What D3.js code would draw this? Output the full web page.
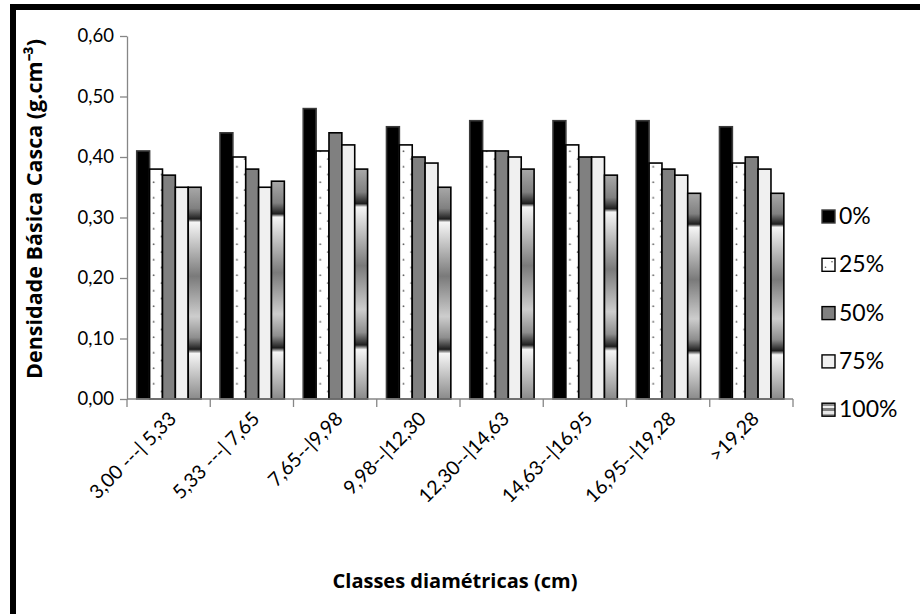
<!DOCTYPE html>
<html>
<head>
<meta charset="utf-8">
<script src="https://cdn.jsdelivr.net/npm/d3@7"></script>
<style>
  html, body { margin: 0; padding: 0; background: #fff; }
  svg { display: block; font-family: Lato, "Open Sans", sans-serif; }
  text { fill: #000; }
</style>
</head>
<body>
<svg id="chart" width="920" height="614"></svg>
<script>
// Diameter classes (cm)
const categories = [
  "3,00 ---| 5,33", "5,33 ---| 7,65", "7,65--|9,98", "9,98--|12,30",
  "12,30--|14,63", "14,63--|16,95", "16,95--|19,28", ">19,28"
];
// Treatment levels
const seriesNames = ["0%", "25%", "50%", "75%", "100%"];
// Bark basic density (g.cm-3) per treatment
const s0   = [0.41, 0.44, 0.48, 0.45, 0.46, 0.46, 0.46, 0.45];
const s25  = [0.38, 0.40, 0.41, 0.42, 0.41, 0.42, 0.39, 0.39];
const s50  = [0.37, 0.38, 0.44, 0.40, 0.41, 0.40, 0.38, 0.40];
const s75  = [0.35, 0.35, 0.42, 0.39, 0.40, 0.40, 0.37, 0.38];
const s100 = [0.35, 0.36, 0.38, 0.35, 0.38, 0.37, 0.34, 0.34];
const yTicks = [0, 0.1, 0.2, 0.3, 0.4, 0.5, 0.6];

const seriesValues = [s0, s25, s50, s75, s100];

const svg = d3.select("#chart");
const defs = svg.append("defs");

// dotted fill for 25%
const dots = defs.append("pattern")
  .attr("id", "dots").attr("patternUnits", "userSpaceOnUse")
  .attr("width", 15.5).attr("height", 15.5);
dots.append("rect").attr("width", 15.5).attr("height", 15.5).attr("fill", "#fff");
dots.append("circle").attr("cx", 3.5).attr("cy", 4).attr("r", 0.9).attr("fill", "#555");
dots.append("circle").attr("cx", 11.2).attr("cy", 11.75).attr("r", 0.9).attr("fill", "#555");

// banded metallic gradient for 100%
const grad = defs.append("linearGradient")
  .attr("id", "bands").attr("x1", 0).attr("y1", 0).attr("x2", 0).attr("y2", 1);
[
  [0, "#a8a8a8"], [0.10, "#808080"], [0.15, "#1e1e1e"], [0.165, "#f6f6f6"],
  [0.42, "#7a7a7a"], [0.61, "#cdcdcd"], [0.71, "#8e8e8e"], [0.765, "#1e1e1e"],
  [0.785, "#f6f6f6"], [1, "#8a8a8a"]
].forEach(([o, c]) => grad.append("stop").attr("offset", o).attr("stop-color", c));

// striped legend swatch for 100%
const stripes = defs.append("linearGradient")
  .attr("id", "stripes").attr("x1", 0).attr("y1", 0).attr("x2", 0).attr("y2", 1);
[
  [0, "#909090"], [0.2, "#909090"], [0.2, "#f0f0f0"], [0.4, "#f0f0f0"],
  [0.4, "#808080"], [0.6, "#808080"], [0.6, "#e8e8e8"], [0.8, "#e8e8e8"],
  [0.8, "#a0a0a0"], [1, "#a0a0a0"]
].forEach(([o, c]) => stripes.append("stop").attr("offset", o).attr("stop-color", c));

const fills = ["#000000", "url(#dots)", "#808080", "#f0f0f0", "url(#bands)"];
const strokes = ["#3a3a3a", "#000", "#000", "#000", "#000"];

// outer frame
svg.append("rect")
  .attr("x", 13).attr("y", 7).attr("width", 1000).attr("height", 1000)
  .attr("fill", "none").attr("stroke", "#000").attr("stroke-width", 6);

const plot = { left: 127, right: 793, top: 36, bottom: 399 };

const y = d3.scaleLinear().domain([0, 0.6]).range([plot.bottom, plot.top]);
const x0 = d3.scaleBand().domain(categories).range([plot.left, plot.right]).padding(0);
const x1 = d3.scaleBand().domain(seriesNames)
  .range([x0.bandwidth() * 0.117, x0.bandwidth() * 0.89]).padding(0);

const fmt = v => d3.format(".2f")(v).replace(".", ",");

// y axis
const yAxis = svg.append("g")
  .attr("transform", `translate(${plot.left},0)`)
  .call(d3.axisLeft(y).tickValues(yTicks).tickFormat(fmt).tickSize(7).tickSizeOuter(0));
yAxis.attr("font-family", null).attr("font-size", null);
yAxis.select(".domain").attr("stroke", "#868686").attr("stroke-width", 1.3);
yAxis.selectAll(".tick line").attr("stroke", "#868686").attr("stroke-width", 1.3);
yAxis.selectAll(".tick text")
  .attr("x", -13).attr("fill", "#000")
  .style("font-family", "Lato, sans-serif").style("font-size", "18.5px");

// bars
const groups = svg.append("g").selectAll("g")
  .data(categories)
  .join("g")
  .attr("transform", d => `translate(${x0(d)},0)`);

groups.selectAll("rect")
  .data((d, i) => seriesNames.map((s, k) => ({ s, k, v: seriesValues[k][i] })))
  .join("rect")
  .attr("x", d => x1(d.s))
  .attr("y", d => y(d.v))
  .attr("width", x1.bandwidth())
  .attr("height", d => y(0) - y(d.v))
  .attr("fill", d => fills[d.k])
  .attr("stroke", d => strokes[d.k])
  .attr("stroke-width", 1.6);

// x axis
const xAxisG = svg.append("g").attr("transform", `translate(0,${plot.bottom})`);
xAxisG.append("line")
  .attr("x1", plot.left).attr("x2", plot.right)
  .attr("stroke", "#868686").attr("stroke-width", 1.3);
const bounds = categories.map(c => x0(c)).concat([x0(categories[categories.length - 1]) + x0.step()]);
xAxisG.selectAll("line.tk")
  .data(bounds)
  .join("line").attr("class", "tk")
  .attr("x1", d => d).attr("x2", d => d)
  .attr("y1", 0).attr("y2", 8)
  .attr("stroke", "#868686").attr("stroke-width", 1.3);
xAxisG.selectAll("text.lbl")
  .data(categories)
  .join("text").attr("class", "lbl")
  .attr("text-anchor", "end")
  .style("font-family", "Lato, sans-serif").style("font-size", "19.5px")
  .attr("transform", d => `translate(${x0(d) + x0.bandwidth() / 2 + 9},${21}) rotate(-45)`)
  .text(d => d);

// axis titles
svg.append("text")
  .attr("x", 455).attr("y", 588)
  .attr("text-anchor", "middle")
  .style("font-family", "'Open Sans', sans-serif")
  .style("font-size", "20px").style("font-weight", "bold")
  .text("Classes diamétricas (cm)");

svg.append("text")
  .attr("transform", "translate(42,209) rotate(-90)")
  .attr("text-anchor", "middle")
  .style("font-family", "'Open Sans', sans-serif")
  .style("font-size", "21.5px").style("font-weight", "bold")
  .text("Densidade Básica Casca (g.cm⁻³)");

// legend
const legend = svg.append("g").selectAll("g")
  .data(seriesNames)
  .join("g")
  .attr("transform", (d, i) => `translate(822,${210 + i * 48.3})`);
legend.append("rect")
  .attr("width", 13).attr("height", 13)
  .attr("fill", (d, i) => i === 4 ? "url(#stripes)" : (i === 1 ? "#fff" : fills[i]))
  .attr("stroke", (d, i) => i === 0 ? "#3a3a3a" : "#000")
  .attr("stroke-width", 1.4);
legend.filter((d, i) => i === 1).append("circle")
  .attr("cx", 3.5).attr("cy", 9).attr("r", 0.8).attr("fill", "#555");
legend.filter((d, i) => i === 1).append("circle")
  .attr("cx", 10).attr("cy", 3.5).attr("r", 0.8).attr("fill", "#555");
legend.append("text")
  .attr("x", 17).attr("y", 14)
  .style("font-family", "Lato, sans-serif").style("font-size", "23px")
  .text(d => d);
</script>
</body>
</html>
